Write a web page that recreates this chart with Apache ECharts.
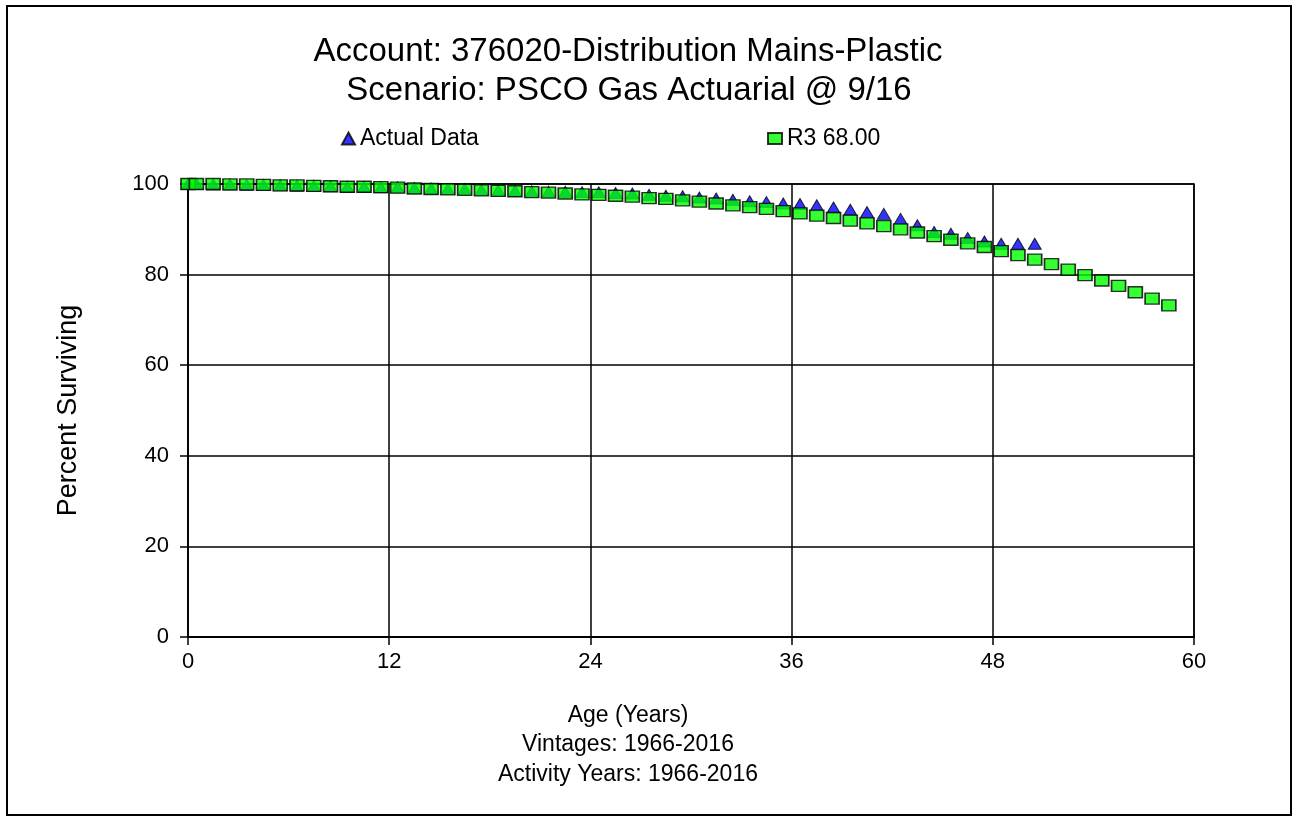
<!DOCTYPE html>
<html>
<head>
<meta charset="utf-8">
<script src="https://cdn.jsdelivr.net/npm/echarts@6/dist/echarts.min.js"></script>
<style>
html,body{margin:0;padding:0;background:#fff;}
#frame{position:absolute;left:6px;top:5px;width:1286px;height:811px;border:2px solid #000;box-sizing:border-box;}
#chart{position:absolute;left:0;top:0;width:1296px;height:820px;}
</style>
</head>
<body>
<div id="frame"></div>
<div id="chart"></div>
<script>
const titleLines = ['Account: 376020-Distribution Mains-Plastic', 'Scenario: PSCO Gas Actuarial @ 9/16'];
const xAxisLines = ['Age (Years)', 'Vintages: 1966-2016', 'Activity Years: 1966-2016'];
const yAxisTitle = 'Percent Surviving';
const seriesNames = ['Actual Data', 'R3 68.00'];
const xTicks = [0, 12, 24, 36, 48, 60];
const yTicks = [0, 20, 40, 60, 80, 100];

const actualAges = [0,0.5,1.5,2.5,3.5,4.5,5.5,6.5,7.5,8.5,9.5,10.5,11.5,12.5,13.5,14.5,15.5,16.5,17.5,18.5,19.5,20.5,21.5,22.5,23.5,24.5,25.5,26.5,27.5,28.5,29.5,30.5,31.5,32.5,33.5,34.5,35.5,36.5,37.5,38.5,39.5,40.5,41.5,42.5,43.5,44.5,45.5,46.5,47.5,48.5,49.5,50.5];
const actualValues = [100,100,99.9,99.9,99.8,99.8,99.7,99.6,99.6,99.5,99.4,99.4,99.3,99.3,99.1,99.0,98.9,98.9,98.7,98.6,98.5,98.4,98.3,98.3,98.2,98.2,98.0,97.9,97.6,97.4,97.3,97.0,96.8,96.5,96.2,96.0,95.7,95.6,95.3,94.8,94.3,93.8,93.4,92.3,90.9,89.4,89.0,88.1,87.3,86.8,86.8,86.8];

const fittedAges = [0,0.5,1.5,2.5,3.5,4.5,5.5,6.5,7.5,8.5,9.5,10.5,11.5,12.5,13.5,14.5,15.5,16.5,17.5,18.5,19.5,20.5,21.5,22.5,23.5,24.5,25.5,26.5,27.5,28.5,29.5,30.5,31.5,32.5,33.5,34.5,35.5,36.5,37.5,38.5,39.5,40.5,41.5,42.5,43.5,44.5,45.5,46.5,47.5,48.5,49.5,50.5,51.5,52.5,53.5,54.5,55.5,56.5,57.5,58.5];
const fittedValues = [100,100,100,99.9,99.9,99.8,99.7,99.7,99.6,99.5,99.4,99.4,99.3,99.2,99.0,98.9,98.8,98.7,98.6,98.5,98.4,98.2,98.1,97.9,97.7,97.6,97.4,97.2,96.9,96.7,96.4,96.1,95.7,95.3,94.9,94.5,94.0,93.5,93.0,92.5,91.9,91.3,90.7,90.0,89.3,88.5,87.7,86.9,86.1,85.2,84.3,83.3,82.3,81.1,79.9,78.7,77.5,76.1,74.7,73.2];

const FONT = '"Liberation Sans", Arial, sans-serif';
const chart = echarts.init(document.getElementById('chart'), null, {renderer: 'canvas'});

const option = {
  backgroundColor: 'transparent',
  animation: false,
  grid: {left: 188, right: 102, top: 184, bottom: 183, show: true, borderColor: '#000', borderWidth: 1.5, containLabel: false},
  xAxis: {
    type: 'value', min: xTicks[0], max: xTicks[xTicks.length - 1], interval: 12,
    axisLine: {show: true, onZero: false, lineStyle: {color: '#000', width: 2}},
    axisTick: {show: true, inside: false, length: 8, lineStyle: {color: '#000', width: 1.5}},
    axisLabel: {color: '#000', fontFamily: FONT, fontSize: 22, margin: 14},
    splitLine: {show: true, lineStyle: {color: '#000', width: 1.5}}
  },
  yAxis: {
    type: 'value', min: yTicks[0], max: yTicks[yTicks.length - 1], interval: 20,
    name: yAxisTitle, nameLocation: 'middle', nameRotate: 90, nameGap: 106,
    nameTextStyle: {color: '#000', fontFamily: FONT, fontSize: 27},
    axisLine: {show: true, lineStyle: {color: '#000', width: 1.5}},
    axisTick: {show: true, inside: false, length: 8, lineStyle: {color: '#000', width: 1.5}},
    axisLabel: {color: '#000', fontFamily: FONT, fontSize: 22, margin: 19},
    splitLine: {show: true, lineStyle: {color: '#000', width: 1.5}}
  },
  legend: [
    {data: [seriesNames[0]], left: 336, top: 122, itemWidth: 13, itemHeight: 12, itemGap: 6,
     textStyle: {color: '#000', fontFamily: FONT, fontSize: 23}},
    {data: [seriesNames[1]], left: 762, top: 122, itemWidth: 14, itemHeight: 11, itemGap: 6,
     textStyle: {color: '#000', fontFamily: FONT, fontSize: 23}}
  ],
  graphic: [
    {type: 'text', x: 628, y: 52, style: {text: titleLines[0], fill: '#000', font: '33px ' + FONT, align: 'center', verticalAlign: 'middle'}},
    {type: 'text', x: 629, y: 91, style: {text: titleLines[1], fill: '#000', font: '33px ' + FONT, align: 'center', verticalAlign: 'middle'}},
    {type: 'text', x: 628, y: 716, style: {text: xAxisLines[0], fill: '#000', font: '23px ' + FONT, align: 'center', verticalAlign: 'middle'}},
    {type: 'text', x: 628, y: 745, style: {text: xAxisLines[1], fill: '#000', font: '23px ' + FONT, align: 'center', verticalAlign: 'middle'}},
    {type: 'text', x: 628, y: 775, style: {text: xAxisLines[2], fill: '#000', font: '23px ' + FONT, align: 'center', verticalAlign: 'middle'}}
  ],
  series: [
    {
      name: seriesNames[0], type: 'scatter', symbol: 'triangle', symbolSize: [13, 11],
      itemStyle: {color: '#0000ff', borderColor: '#000', borderWidth: 1}, z: 3,
      data: actualAges.map((a, i) => [a, actualValues[i]])
    },
    {
      name: seriesNames[1], type: 'scatter', symbol: 'rect', symbolSize: [14, 11],
      itemStyle: {color: '#00ff00', borderColor: '#000', borderWidth: 1.5}, z: 4,
      data: fittedAges.map((a, i) => [a, fittedValues[i]])
    }
  ]
};
chart.setOption(option);
</script>
</body>
</html>
